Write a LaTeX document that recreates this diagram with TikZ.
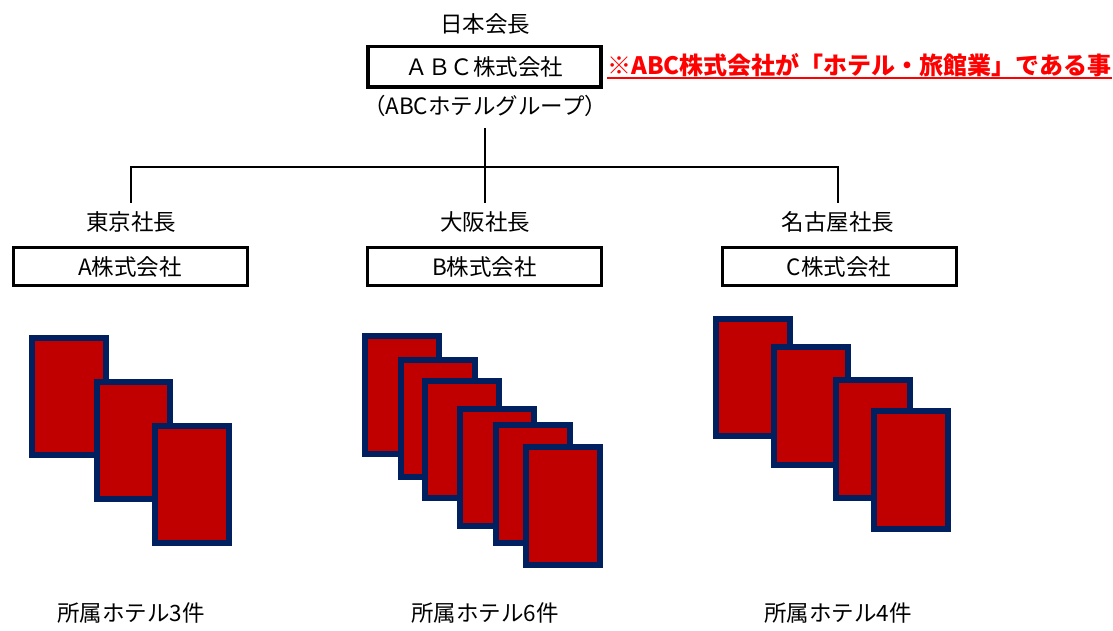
\documentclass[tikz,border=0pt]{standalone}
\usepackage{fontspec}
\setmainfont{Noto Sans CJK JP}
\definecolor{cardred}{HTML}{C00000}
\definecolor{cardblue}{HTML}{002060}
\definecolor{notered}{HTML}{FF0000}
\begin{document}
\begin{tikzpicture}[x=1pt,y=-1pt,
  lbl/.style={inner sep=0pt,font=\fontsize{22.5}{25}\selectfont},
  cobox/.style={draw=black,line width=3pt,inner sep=0pt,minimum width=234pt,minimum height=38pt,font=\fontsize{22.5}{25}\selectfont},
  card/.style={draw=cardblue,fill=cardred,line width=6pt},
  conn/.style={draw=black,line width=1.6pt}]
\useasboundingbox (0,0) rectangle (1113,631);
% top
\node[lbl] (pres) at (485,24) {日本会長};
\node[cobox,line width=3.5pt,minimum width=233pt,minimum height=40.5pt] (abc) at (484.5,67) {ＡＢＣ株式会社};
\node[lbl,anchor=west,text=notered,font=\fontsize{24}{26}\selectfont\bfseries] (note) at (607,65) {※ABC株式会社が「ホテル・旅館業」である事};
\draw[notered,line width=2pt] ([yshift=-4pt]note.base west) -- ([yshift=-4pt]note.base east);
\node[lbl] (grp) at (485,106) {（ABCホテルグループ）};
% connectors
\coordinate (stub) at (485,128);
\coordinate (hub) at (485,167);
\coordinate (ta) at (131,203);
\coordinate (oa) at (485,203);
\coordinate (na) at (838,203);
\draw[conn] (stub) -- (oa);
\draw[conn] (ta) |- (hub) -| (na);
% second level
\node[lbl] (tk) at (131,222) {東京社長};
\node[lbl] (os) at (485,222) {大阪社長};
\node[lbl] (ng) at (838,222) {名古屋社長};
\node[cobox] (ca) at (130,266.5) {A株式会社};
\node[cobox] (cb) at (484.5,266.5) {B株式会社};
\node[cobox] (cc) at (839,266.5) {C株式会社};
% cards A
\draw[card] (32,338) rectangle (106,455);
\draw[card] (97,382) rectangle (170,499);
\draw[card] (155,426) rectangle (229,543);
% cards B
\draw[card] (365,336) rectangle (439,454);
\draw[card] (401,360) rectangle (475,477);
\draw[card] (425,381) rectangle (499,498);
\draw[card] (460,409) rectangle (534,526);
\draw[card] (496,425) rectangle (570,543);
\draw[card] (526,447) rectangle (600,565);
% cards C
\draw[card] (716,319) rectangle (790,436);
\draw[card] (774,347) rectangle (848,465);
\draw[card] (836,380) rectangle (910,498);
\draw[card] (874,411) rectangle (948,529);
% bottom labels
\node[lbl] (ha) at (131,613) {所属ホテル3件};
\node[lbl] (hb) at (485,613) {所属ホテル6件};
\node[lbl] (hc) at (838,613) {所属ホテル4件};
\end{tikzpicture}
\end{document}
